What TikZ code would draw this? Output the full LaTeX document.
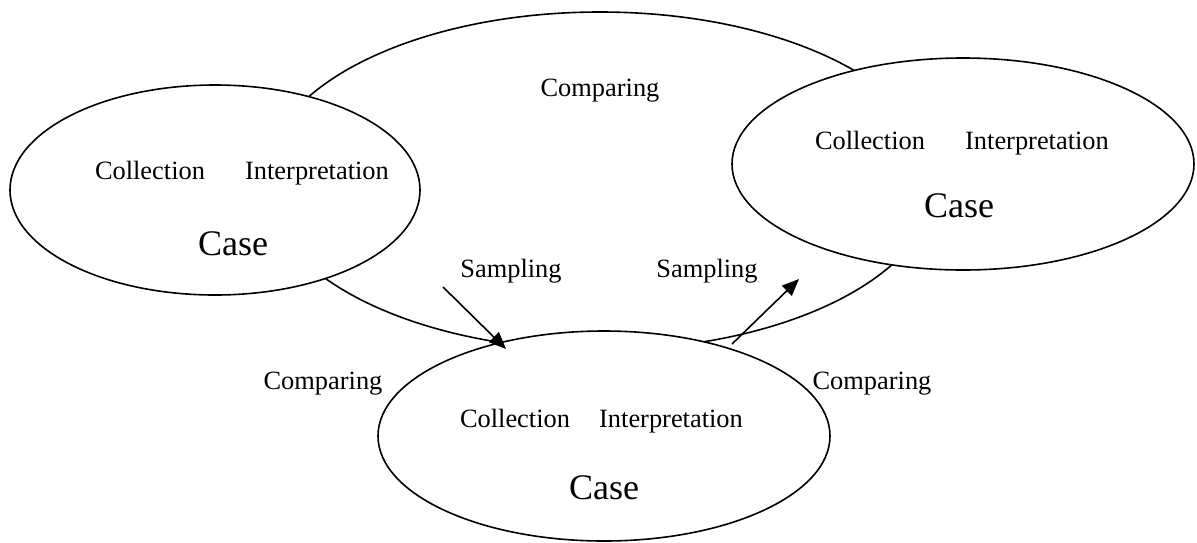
\documentclass[tikz,border=0pt]{standalone}
\usepackage{fontspec}
\setmainfont{Liberation Serif}
\usetikzlibrary{shapes.geometric,arrows.meta}
\begin{document}
\begin{tikzpicture}[x=1pt,y=-1pt,
  ell/.style={draw=black,fill=white,line width=1.6pt,ellipse,inner sep=0pt},
  lbl/.style={font=\fontsize{26.4}{30}\selectfont,inner sep=0pt,anchor=base},
  big/.style={font=\fontsize{36}{40}\selectfont,inner sep=0pt,anchor=base},
  arr/.style={line width=1.6pt,-{Triangle[length=17pt,width=14pt]}}]
\useasboundingbox (0,0) rectangle (1197,542);
\node[ell,minimum width=672pt,minimum height=338pt] (outer) at (600,181) {};
\node[ell,minimum width=410pt,minimum height=210pt] (left) at (215,190) {};
\node[ell,minimum width=462pt,minimum height=212pt] (right) at (963,164) {};
\node[ell,minimum width=452pt,minimum height=210pt] (bottom) at (604,436) {};
\node[lbl] (cmpTop) at (600,96) {Comparing};
\node[lbl] (colL) at (150,179) {Collection};
\node[lbl] (intL) at (317,179) {Interpretation};
\node[big] (caseL) at (233,255) {Case};
\node[lbl] (colR) at (870,149) {Collection};
\node[lbl] (intR) at (1037,149) {Interpretation};
\node[big] (caseR) at (959,217) {Case};
\node[lbl] (colB) at (515,427) {Collection};
\node[lbl] (intB) at (671,427) {Interpretation};
\node[big] (caseB) at (604,499) {Case};
\node[lbl] (sampL) at (511,277) {Sampling};
\node[lbl] (sampR) at (707,277) {Sampling};
\node[lbl] (cmpL) at (323,389) {Comparing};
\node[lbl] (cmpR) at (872,389) {Comparing};
\coordinate (a1s) at (443,287);
\coordinate (a1e) at (506,349);
\coordinate (a2s) at (732,344);
\coordinate (a2e) at (799,279);
\draw[arr] (a1s) -- (a1e);
\draw[arr] (a2s) -- (a2e);
\end{tikzpicture}
\end{document}
